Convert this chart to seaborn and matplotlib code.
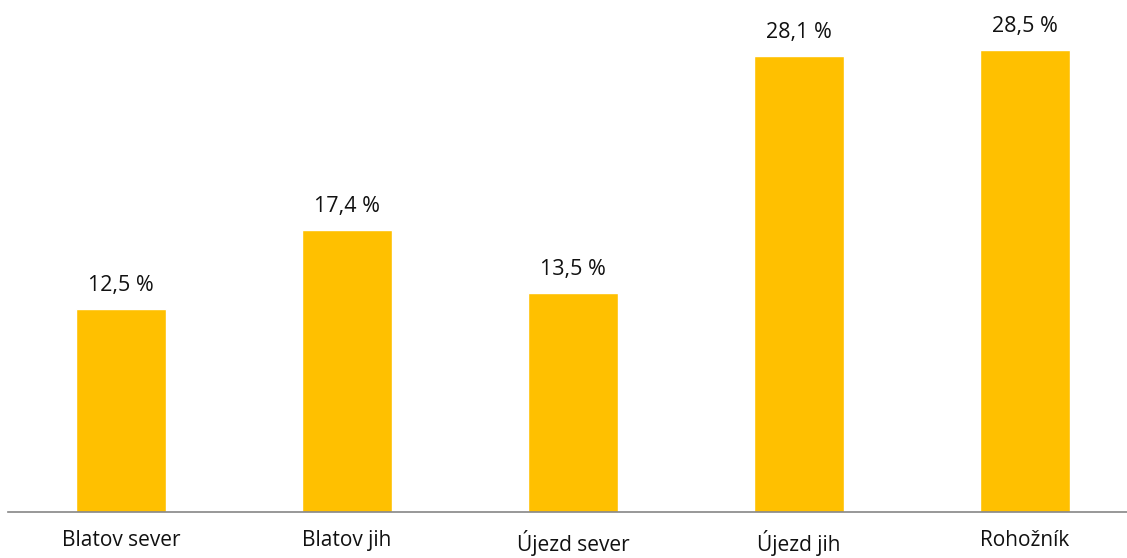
import matplotlib
matplotlib.use('Agg')
import pandas as pd
import seaborn as sns
import matplotlib.pyplot as plt

categories = ['Blatov sever', 'Blatov jih', 'Újezd sever', 'Újezd jih', 'Rohožník']
values = [12.5, 17.4, 13.5, 28.1, 28.5]
labels = ['12,5 %', '17,4 %', '13,5 %', '28,1 %', '28,5 %']

df = pd.DataFrame({'Lokalita': categories, 'Podil': values})

sns.set_theme(style='white')
plt.rcParams['font.family'] = ['Open Sans', 'DejaVu Sans']

fig = plt.figure(figsize=(11.27, 5.58), dpi=100)
# axis line starts a few px in from the left and runs off the right edge
ax = fig.add_axes([8 / 1127, 46 / 558, 1130 / 1127, 512 / 558])

sns.barplot(ax=ax, data=df, x='Lokalita', y='Podil', color='#FFC000',
            width=0.4, saturation=1)

for i, (v, lab) in enumerate(zip(values, labels)):
    ax.annotate(lab, (i, v), xytext=(0, 13), textcoords='offset points',
                ha='center', va='baseline', fontsize=15.5, color='#111111')

ax.set_ylim(0, 31.58)
ax.set_xlim(-0.5, 4.5)
ax.set_xlabel('')
ax.set_ylabel('')
ax.set_yticks([])
ax.tick_params(axis='x', length=0, labelsize=15, pad=13, colors='#111111')
for s in ['top', 'right', 'left']:
    ax.spines[s].set_visible(False)
ax.spines['bottom'].set_color('#868686')
ax.spines['bottom'].set_linewidth(1.2)

fig.savefig('out.png', dpi=100)
